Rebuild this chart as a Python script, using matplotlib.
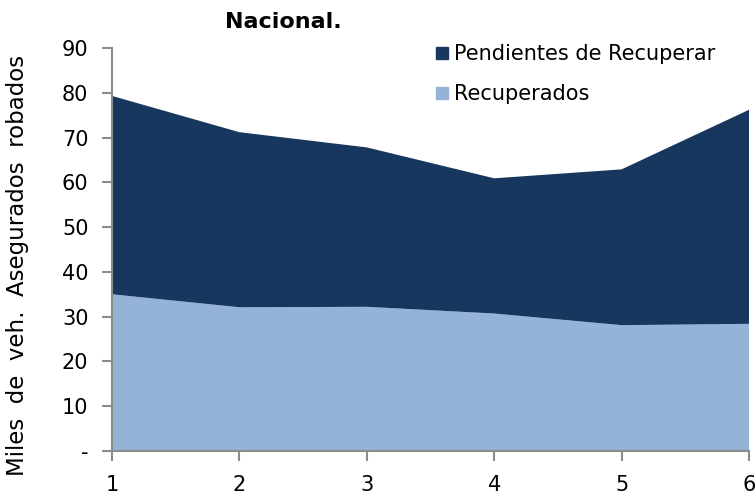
import matplotlib
matplotlib.use("Agg")
import matplotlib.pyplot as plt
from matplotlib.patches import Patch

x = [1, 2, 3, 4, 5, 6]
recuperados = [35.0, 32.1, 32.2, 30.7, 28.1, 28.4]
pendientes = [44.3, 39.1, 35.6, 30.2, 34.8, 47.8]
yticks = [0, 10, 20, 30, 40, 50, 60, 70, 80, 90]
yticklabels = ["-", "10", "20", "30", "40", "50", "60", "70", "80", "90"]

plt.rcParams['font.family'] = ['DejaVu Sans']

fig = plt.figure(figsize=(7.55, 4.97), dpi=100)
ax = fig.add_axes([112/755, 1-451/497, (749-112)/755, (451-48)/497])

dark = "#17375E"
light = "#95B3D7"
ax.stackplot(x, recuperados, pendientes, colors=[light, dark], linewidth=0)

ax.set_xlim(1, 6)
ax.set_ylim(0, 90)
ax.set_yticks(yticks)
ax.set_yticklabels(yticklabels)
ax.set_xticks(x)

for s in ["top", "right"]:
    ax.spines[s].set_visible(False)
for s in ["left", "bottom"]:
    ax.spines[s].set_color("#8c8c8c")
    ax.spines[s].set_linewidth(1.5)
ax.tick_params(axis="both", colors="#8c8c8c", length=7, width=1.5,
               labelsize=15, labelcolor="black", direction="out")
ax.tick_params(axis="y", pad=10)
ax.tick_params(axis="x", pad=10)

ax.set_ylabel("Miles  de  veh.  Asegurados  robados", fontsize=16.5)
ax.yaxis.set_label_coords(-0.13, 0.46)

fig.text(283/755, 1-22/497, "Nacional.", fontsize=16, fontweight="bold",
         ha="center", va="center")

handles = [Patch(color=dark, label="Pendientes de Recuperar"),
           Patch(color=light, label="Recuperados")]
leg = fig.legend(handles=handles, loc="upper left",
                 bbox_to_anchor=(426/755, 1-34/497), frameon=False,
                 fontsize=15, handlelength=0.55, handleheight=0.55,
                 handletextpad=0.3, labelspacing=0.95, borderpad=0)

fig.savefig("out.png", dpi=100)
